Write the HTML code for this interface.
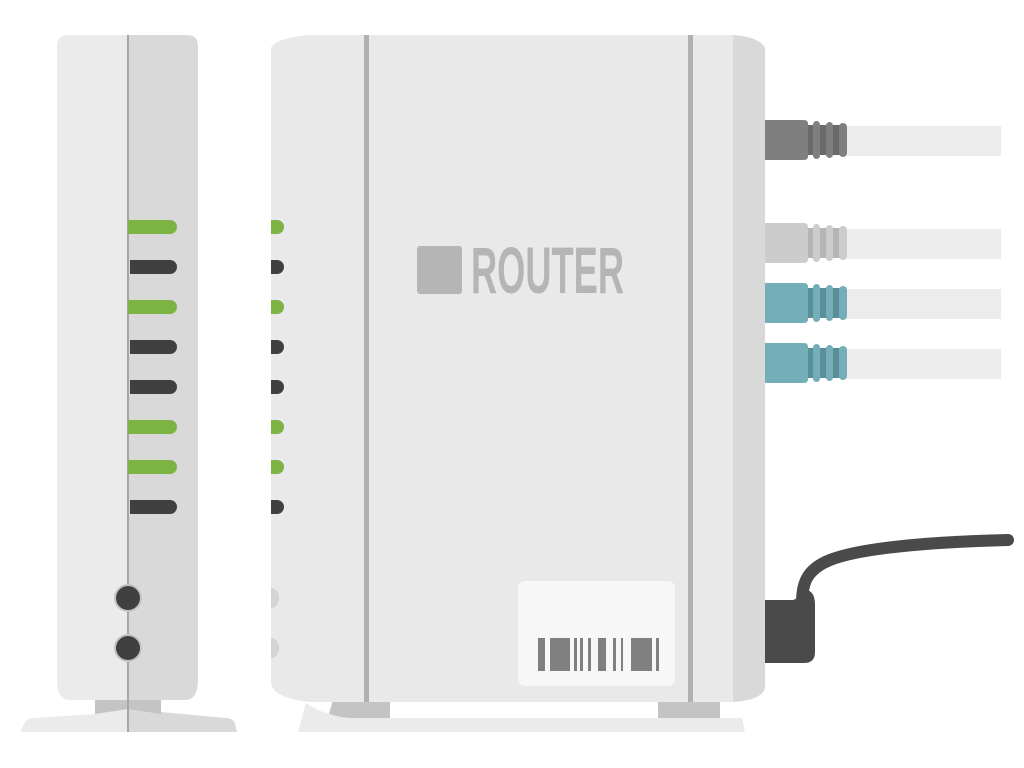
<!DOCTYPE html>
<html><head><meta charset="utf-8"><style>html,body{margin:0;padding:0;background:#fff}svg{display:block}</style></head>
<body>
<svg width="1024" height="768" viewBox="0 0 1024 768" xmlns="http://www.w3.org/2000/svg">
<!-- side view -->
<path d="M20 732 L25 722 Q27 718 34 718 L95 714 L95 700 L161 700 L161 714 L226 718 Q233 718 235 724 L237 732 Z" fill="#ebebeb"/>
<path d="M128 705 L161 712 L226 718 Q233 718 235 724 L237 732 L128 732 Z" fill="#d9d9d9"/>
<path d="M95 700 L161 700 L161 714 L128 709 L95 714 Z" fill="#c4c4c4"/>
<path d="M68 35 L128 35 L128 700 L70 700 Q57 700 57 680 L57 46 Q57 35 68 35 Z" fill="#ebebeb"/>
<path d="M128 35 L187 35 Q198 35 198 46 L198 680 Q198 700 185 700 L128 700 Z" fill="#d9d9d9"/>
<rect x="127" y="35" width="2" height="697" fill="#a6a6a6"/>
<g stroke-linecap="round" stroke-width="14">
<line x1="137" y1="227" x2="170" y2="227" stroke="#7cb342"/>
<line x1="137" y1="267" x2="170" y2="267" stroke="#404040"/>
<line x1="137" y1="307" x2="170" y2="307" stroke="#7cb342"/>
<line x1="137" y1="347" x2="170" y2="347" stroke="#404040"/>
<line x1="137" y1="387" x2="170" y2="387" stroke="#404040"/>
<line x1="137" y1="427" x2="170" y2="427" stroke="#7cb342"/>
<line x1="137" y1="467" x2="170" y2="467" stroke="#7cb342"/>
<line x1="137" y1="507" x2="170" y2="507" stroke="#404040"/>
</g>
<rect x="128" y="220" width="9" height="14" fill="#7cb342"/>
<rect x="128" y="300" width="9" height="14" fill="#7cb342"/>
<rect x="128" y="420" width="9" height="14" fill="#7cb342"/>
<rect x="128" y="460" width="9" height="14" fill="#7cb342"/>
<rect x="130" y="260" width="7" height="14" fill="#404040"/>
<rect x="130" y="340" width="7" height="14" fill="#404040"/>
<rect x="130" y="380" width="7" height="14" fill="#404040"/>
<rect x="130" y="500" width="7" height="14" fill="#404040"/>
<circle cx="128" cy="598" r="14" fill="#c4c4c4"/><circle cx="128" cy="598" r="12" fill="#404040"/>
<circle cx="128" cy="648" r="14" fill="#c4c4c4"/><circle cx="128" cy="648" r="12" fill="#404040"/>

<!-- power cable -->
<path d="M1008 540 C930 542 860 548 830 560 C805 570 802 585 802 605" fill="none" stroke="#4a4a4a" stroke-width="12" stroke-linecap="round"/>
<path d="M765 600 L793 600 Q800 598 800 590 L807 590 Q815 592 815 605 L815 652 Q815 663 804 663 L765 663 Z" fill="#4a4a4a"/>

<!-- front base and feet -->
<path d="M306 703 L298 732 L745 732 L742 718 L350 718 Q325 716 306 703 Z" fill="#ebebeb"/>
<path d="M333 700 L390 700 L390 718 L350 718 Q338 717 329 714 Z" fill="#c4c4c4"/>
<rect x="658" y="700" width="62" height="18" fill="#c4c4c4"/>

<!-- front body -->
<path d="M271 48 Q275 38 310 35 L733 35 L733 702 L310 702 Q273 698 271 683 Z" fill="#e9e9e9"/>
<path d="M733 35 Q760 37 765 48 L765 688 Q762 700 733 702 Z" fill="#d9d9d9"/>
<rect x="364" y="35" width="5" height="667" fill="#b0b0b0"/>
<rect x="688" y="35" width="5" height="667" fill="#b0b0b0"/>
<path d="M271 588 a8 10 0 0 1 0 20 Z" fill="#d4d4d4"/>
<path d="M271 638 a8 10 0 0 1 0 20 Z" fill="#d4d4d4"/>

<!-- front partial LEDs -->
<g>
<path d="M271 220 h6 a7 7 0 0 1 0 14 h-6 Z" fill="#7cb342"/>
<path d="M271 260 h6 a7 7 0 0 1 0 14 h-6 Z" fill="#404040"/>
<path d="M271 300 h6 a7 7 0 0 1 0 14 h-6 Z" fill="#7cb342"/>
<path d="M271 340 h6 a7 7 0 0 1 0 14 h-6 Z" fill="#404040"/>
<path d="M271 380 h6 a7 7 0 0 1 0 14 h-6 Z" fill="#404040"/>
<path d="M271 420 h6 a7 7 0 0 1 0 14 h-6 Z" fill="#7cb342"/>
<path d="M271 460 h6 a7 7 0 0 1 0 14 h-6 Z" fill="#7cb342"/>
<path d="M271 500 h6 a7 7 0 0 1 0 14 h-6 Z" fill="#404040"/>
</g>

<!-- logo -->
<rect x="417" y="246" width="45" height="48" rx="3" fill="#b5b5b5"/>
<text x="471" y="293" font-family="Liberation Sans, sans-serif" font-size="66" font-weight="bold" fill="#b5b5b5" textLength="153" lengthAdjust="spacingAndGlyphs">ROUTER</text>

<!-- label -->
<rect x="518" y="581" width="157" height="105" rx="7" fill="#f7f7f7"/>
<g fill="#808080">
<rect x="538" y="638" width="7" height="33"/>
<rect x="550" y="638" width="20" height="33"/>
<rect x="574" y="638" width="3" height="33"/>
<rect x="580" y="638" width="3" height="33"/>
<rect x="588" y="638" width="3" height="33"/>
<rect x="598" y="638" width="8" height="33"/>
<rect x="613" y="638" width="3" height="33"/>
<rect x="621" y="638" width="2" height="33"/>
<rect x="631" y="638" width="21" height="33"/>
<rect x="656" y="638" width="3" height="33"/>
</g>

<!-- ethernet cables -->
<g>
<rect x="847" y="126" width="154" height="30" fill="#ececec"/>
<rect x="847" y="229" width="154" height="30" fill="#ececec"/>
<rect x="847" y="289" width="154" height="30" fill="#ececec"/>
<rect x="847" y="349" width="154" height="30" fill="#ececec"/>
</g>
<g>
<rect x="765" y="120" width="38" height="40" fill="#7f7f7f"/>
<rect x="803" y="125" width="42" height="30" fill="#6a6a6a"/>
<rect x="801" y="120" width="7" height="40" rx="3.5" fill="#7f7f7f"/>
<rect x="813" y="121" width="7" height="38" rx="3.5" fill="#7f7f7f"/>
<rect x="826" y="122" width="7" height="36" rx="3.5" fill="#7f7f7f"/>
<rect x="839" y="123" width="8" height="34" rx="4" fill="#7f7f7f"/>
</g>
<g>
<rect x="765" y="223" width="38" height="40" fill="#cccccc"/>
<rect x="803" y="228" width="42" height="30" fill="#b5b5b5"/>
<rect x="801" y="223" width="7" height="40" rx="3.5" fill="#cccccc"/>
<rect x="813" y="224" width="7" height="38" rx="3.5" fill="#cccccc"/>
<rect x="826" y="225" width="7" height="36" rx="3.5" fill="#cccccc"/>
<rect x="839" y="226" width="8" height="34" rx="4" fill="#cccccc"/>
</g>
<g>
<rect x="765" y="283" width="38" height="40" fill="#74aeb8"/>
<rect x="803" y="288" width="42" height="30" fill="#5a8f99"/>
<rect x="801" y="283" width="7" height="40" rx="3.5" fill="#74aeb8"/>
<rect x="813" y="284" width="7" height="38" rx="3.5" fill="#74aeb8"/>
<rect x="826" y="285" width="7" height="36" rx="3.5" fill="#74aeb8"/>
<rect x="839" y="286" width="8" height="34" rx="4" fill="#74aeb8"/>
</g>
<g>
<rect x="765" y="343" width="38" height="40" fill="#74aeb8"/>
<rect x="803" y="348" width="42" height="30" fill="#5a8f99"/>
<rect x="801" y="343" width="7" height="40" rx="3.5" fill="#74aeb8"/>
<rect x="813" y="344" width="7" height="38" rx="3.5" fill="#74aeb8"/>
<rect x="826" y="345" width="7" height="36" rx="3.5" fill="#74aeb8"/>
<rect x="839" y="346" width="8" height="34" rx="4" fill="#74aeb8"/>
</g>
</svg>
</body></html>
